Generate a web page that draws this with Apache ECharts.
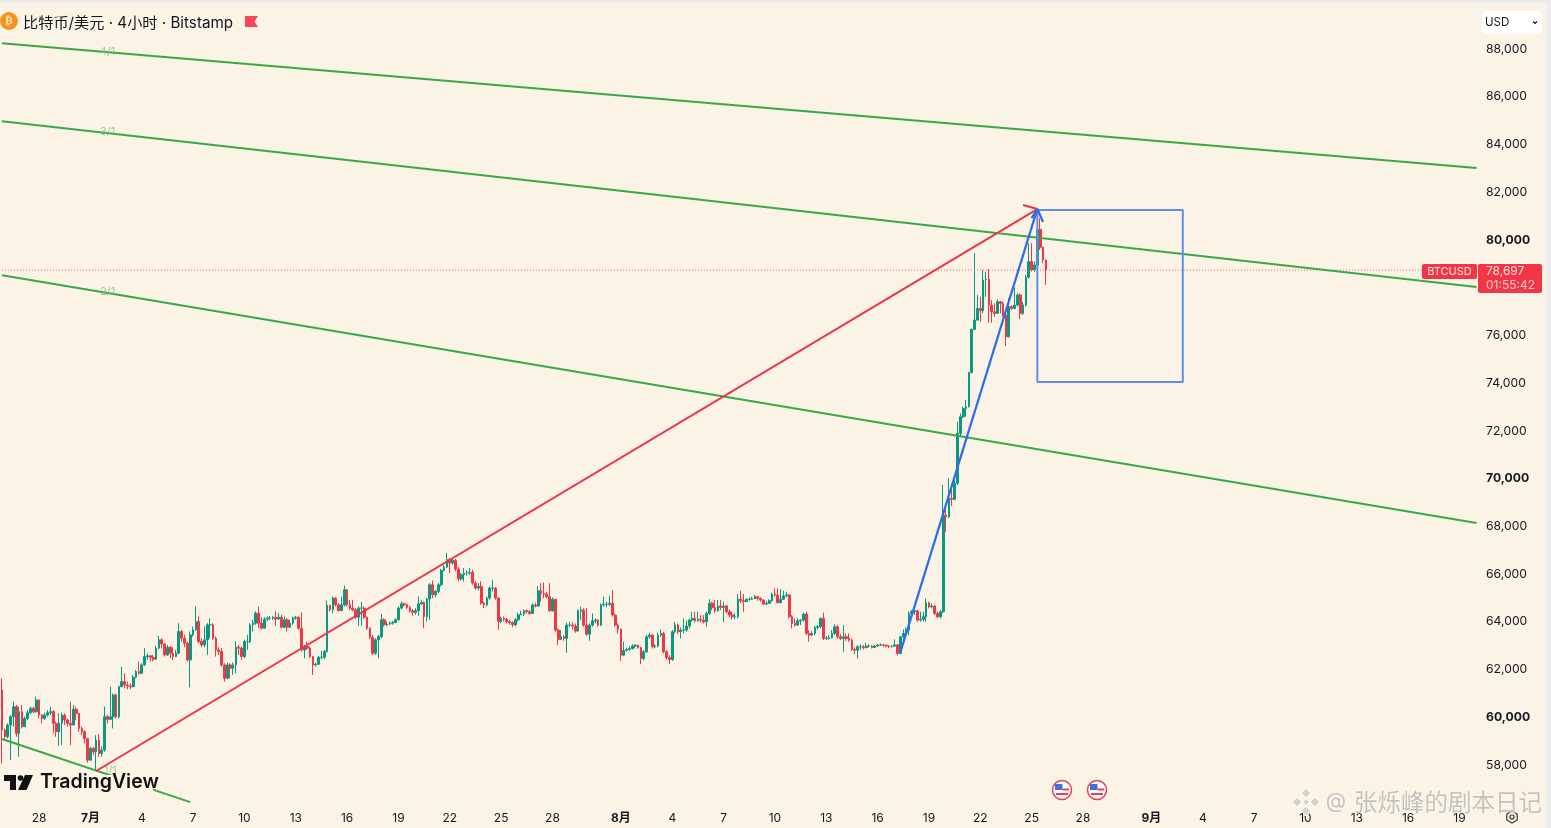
<!DOCTYPE html>
<html><head><meta charset="utf-8">
<style>html,body{margin:0;padding:0;background:#fbf3e6;overflow:hidden}#c{position:absolute;left:-1px;top:0;width:1552px;height:828px}</style>
<script src="https://cdn.jsdelivr.net/npm/echarts@6/dist/echarts.min.js"></script>
</head><body><div id="c"></div>
<script>
const firstOpen = 61100;
const closes = [
59420,59140,59630,59980,60400,59280,60190,59560,59910,60150,60330,60190,60680,60050,59910,60050,60150,60190,59700,59350,59700,60050,59840,59700,59630,60290,60120,59490,59350,59070,
58160,58650,58510,59000,58440,58580,59980,59870,59980,60890,59980,61240,61450,61310,61270,61240,61630,61870,61800,62150,62500,62530,62470,62390,62850,63200,63030,62570,62890,62640,
62500,62640,63550,63270,63060,62360,63410,63620,63970,63130,62990,63200,63830,63830,63270,62780,62710,62150,61590,62150,62010,62150,62890,62850,62500,63130,63130,63830,63900,64320,63900,
63690,64070,64110,64110,64140,64070,64150,63730,64040,63730,63900,64110,64150,63690,62780,62920,62850,62500,62150,62180,62470,62470,62710,64640,64460,64950,64670,64430,64670,65300,
64670,64530,64460,64150,64530,64530,64150,63690,63310,62640,63200,63340,64040,63830,63860,63900,63930,64040,64530,64710,64670,64560,64420,64350,64430,64710,64770,64180,64910,65510,
65090,65230,65510,66110,66250,66560,66420,66530,66170,65750,65930,66000,66000,66030,65580,65370,65440,64740,64670,64950,65370,65370,64950,63970,64110,64070,63970,63930,63830,64040,64250,
64280,64420,64380,64310,64660,64620,65260,65150,65120,65010,64420,64900,63610,63220,63330,63260,63820,63820,63780,63570,64420,64450,63820,63440,63820,64000,64030,63820,64660,64690,
64690,64730,64240,63820,63640,62560,62770,62800,62840,62940,62980,62880,62420,62700,63330,63400,62910,62940,63400,63470,62700,62460,62380,63540,63820,63540,63610,63610,63780,64030,
64100,64000,64060,64030,63960,64310,64730,64560,64420,64620,64560,64620,64380,64240,64170,64170,64900,64840,64800,
64900,64900,64930,65010,64940,64870,64700,64730,64840,65120,65080,64760,64900,65040,65080,64170,63890,63820,64000,64030,64280,63470,63400,63470,63720,63750,64100,63260,63260,63290,
63470,63750,63330,63260,63330,63260,63190,62800,62770,62910,62910,62880,62940,62940,62880,62940,62980,62990,62980,62940,62910,62940,62990,62630,63330,63470,63610,64310,64380,64420,
64030,64060,64170,64760,64590,64620,64310,64170,64380,
68430,68360,69130,69090,69760,71850,72550,72900,72970,74400,76210,76600,77090,76990,78280,78310,77230,76950,76880,77370,77300,76810,75900,77160,77090,77230,77650,76880,77230,78390,
79050,78700,78910,80400,79650,79120,78697];
const highs = [
61590,59490,59700,60050,60610,60470,60400,60470,59980,60260,60400,60400,60820,60710,60090,60150,60260,60400,60260,59770,60120,60150,60120,59910,60610,60470,60400,60150,59560,59420,
59070,58720,58720,59210,59250,58720,60400,60050,61240,60960,60960,61270,62080,61800,61450,61380,61730,61940,62290,62220,62850,62640,62570,62570,62950,63370,63270,63060,62990,62950,
62890,62780,63900,63620,63410,63130,63550,63760,64600,64180,63270,63760,63900,64110,63900,63340,62890,62850,62220,62250,62220,62250,63130,62990,62920,63200,63410,63900,64040,64390,64600,
64150,64150,64180,64210,64210,64390,64320,64250,64180,64110,64040,64180,64210,64180,64350,62990,63130,62920,62530,62250,62530,62750,62780,64850,64670,65020,64990,64740,65020,65470,
65330,64880,64880,64530,64600,64790,64600,64180,63730,63410,63270,63410,64290,64110,63970,63970,63990,64110,64600,64810,64770,64710,64630,64490,64530,65020,64880,64810,64950,65580,
65690,65300,65580,66170,66350,66840,66630,66630,66590,66250,66000,66210,66110,66210,66140,65650,65580,65650,64810,65020,65440,65720,65410,64990,64180,64180,64110,64040,63970,64110,64350,
64420,64480,64480,64450,64730,64760,65460,65570,65600,65220,65570,64980,64900,63680,63610,63400,63920,63960,63960,63890,64480,64590,64520,64520,63890,64310,64100,64060,64730,65010,
64800,65040,65290,64310,63890,63680,63120,62880,62940,63020,63020,62980,62910,62770,63400,63500,63440,63020,63500,63640,63540,62770,62560,63610,63960,63890,63720,64100,64030,64100,
64380,64380,64380,64240,64240,64380,64900,64800,64870,64870,64870,64800,64660,64480,64380,64310,65120,65260,65120,
64940,64980,65010,65080,65040,64980,64900,64840,64900,65180,65360,65360,65320,65260,65220,65120,64240,64100,64100,64060,64340,64380,63610,63580,63780,63820,64140,64340,63360,63400,
63610,63860,63820,63440,63820,63470,63470,63260,62880,62980,63020,62980,63080,63020,62980,62990,63020,63050,63020,62990,62980,62980,63220,63020,63360,63640,63720,64380,64450,64480,
64450,64380,64380,64940,64800,64730,64660,64380,64450,
69690,68920,69970,69760,69900,72340,72690,72970,73250,74440,76250,79400,77650,77580,78700,78630,78730,77440,77300,77470,77400,77370,76880,77510,77230,77970,77720,77720,77370,78490,
79820,79820,79050,80790,80860,79680,79140];
const lows = [
58020,59000,59070,58160,59560,59140,58300,59490,59560,59840,60090,60120,60150,59910,59700,59840,59980,60050,59280,59140,58750,58790,59630,59560,58790,59630,59840,59350,59210,58860,
58050,58160,58370,57710,58300,58300,58510,59700,59840,59490,59910,59910,61210,61170,61130,61130,61210,61590,61730,61770,62110,62360,62290,62290,62360,62810,62850,62500,62530,62430,
62360,62470,62610,63130,62890,62290,61210,63340,63590,63060,62890,62890,62570,63270,63200,62500,62570,62080,61450,61550,61590,61730,61800,62570,62360,62430,62780,63060,63550,63830,63690,
63620,63690,63970,64040,64040,63790,64070,63690,63690,63550,63690,63830,64040,63620,62710,62430,62780,62430,61730,62080,62150,62390,62390,62670,64390,64320,64600,64380,64400,64600,
64600,64460,64390,64070,63790,63790,64070,63620,63230,62570,62570,62430,63270,63760,63790,63820,63840,63900,64010,64490,64600,64490,64350,64210,64250,64210,64670,63690,63970,64040,
64950,64990,65160,65440,66070,66210,66000,66350,66070,65650,65690,65650,65890,65930,65510,65300,65270,64670,64530,64600,64880,65230,64880,63620,63900,63970,63900,63830,63730,63760,63970,
64240,64200,64310,64240,64280,64560,64590,64800,64940,64940,64380,64380,63540,62980,63190,63160,62660,63720,63640,63500,63540,64030,63750,63360,63160,63750,63890,63750,63780,64590,
64560,64620,64170,63750,63470,62320,62520,62700,62740,62800,62840,62830,62180,62350,62660,63260,62840,62850,62880,63330,62630,62380,62180,62320,63470,63440,63260,63470,63540,63680,
63960,63920,63960,63920,63890,63750,64240,64450,64340,64380,64450,63930,64310,64140,64060,64060,64100,64730,64380,
64800,64840,64870,64900,64840,64800,64660,64660,64700,64800,65010,64730,64730,64870,64980,64100,63680,63750,63780,63820,63960,63400,63120,63360,63400,63640,63680,63190,63190,63220,
63260,63400,63260,63190,62700,63160,63120,62740,62600,62420,62770,62800,62840,62880,62840,62850,62910,62940,62910,62880,62850,62880,62910,62560,62600,63260,63300,63400,64100,64240,
63960,63960,63960,63960,64520,64520,64240,64100,64100,
64310,67730,68300,68810,69050,69690,71710,72480,72550,72940,74370,76180,76570,76530,76880,77580,76490,76490,76740,76880,76880,76740,75510,75880,77020,77050,77160,76630,76810,77160,
78350,78630,78630,78840,79540,78980,78070];

const tickLabels = {"06-28":"28","07-01":"7月","07-04":"4","07-07":"7","07-10":"10","07-13":"13","07-16":"16","07-19":"19","07-22":"22","07-25":"25","07-28":"28",
"08-01":"8月","08-04":"4","08-07":"7","08-10":"10","08-13":"13","08-16":"16","08-19":"19","08-22":"22","08-25":"25","08-28":"28",
"09-01":"9月","09-04":"4","09-07":"7","09-10":"10","09-13":"13","09-16":"16","09-19":"19"};
const barCount = 518;
const lastPrice = 78697;
const priceText = "78,697", countdown = "01:55:42";
const boldPrices = [60000,70000,80000];
const hiddenPrices = [56000,78000,90000];
// drawings: [bar index, price]
const fan41 = [[0,88205],[517,82972]];
const fan31 = [[0,84930],[517,77990]];
const fan21 = [[0,78480],[517,68100]];
const fan11 = [[0,59048],[66,56400]];
const redRay = [[33,57706],[363,81254]];
const redHead = [[358,81420],[363,81254]];
const blueRay = [[315,62692],[363,81254]];
const blueHead = [[361,80877],[363,81254],[365,80709]];
const box = [[363,81212],[414,81212],[414,74005],[363,74005],[363,81212]];
const fanLabels = [[37,87832,"4/1"],[37,84480,"3/1"],[37,77776,"2/1"],[38,57706,"1/1"]];

const categories = [];
const t0 = Date.UTC(2025,5,25,20);
for (let i=0;i<barCount;i++){
  const d = new Date(t0+i*4*3600*1000);
  const p = n=>String(n).padStart(2,'0');
  categories.push(p(d.getUTCMonth()+1)+'-'+p(d.getUTCDate())+' '+p(d.getUTCHours()));
}
const opens = [firstOpen].concat(closes.slice(0,-1));
const candles = closes.map((c,i)=>[opens[i],c,lows[i],highs[i]]);

const GREEN='#3aa845', RED='#ef3347', BLUE='#2f6bea', BOX='#5c8fee', BG='#fbf3e6', TXT='#131722';
const FONT='Inter, "Noto Sans CJK SC", sans-serif';
function ln(data,color,width,z,type){return {type:'line',data,showSymbol:false,symbol:'none',silent:true,animation:false,z:z||5,lineStyle:{color,width:width||2,type:type||'solid'}};}
function flag(cx,cy){return [
 {type:'circle',shape:{cx,cy,r:9.5},style:{fill:'#fff',stroke:'#ee3b50',lineWidth:1.5}},
 {type:'rect',shape:{x:cx-7,y:cy-6,width:7.5,height:6},style:{fill:'#3f73d8'}},
 {type:'rect',shape:{x:cx+.5,y:cy-1.5,width:6.5,height:2},style:{fill:'#e8404f'}},
 {type:'rect',shape:{x:cx-6,y:cy+3,width:12,height:2},style:{fill:'#e8404f'}}
];}
const wm='#c4c0ba';
function dia(cx,cy,r){return {type:'polygon',shape:{points:[[cx,cy-r],[cx+r,cy],[cx,cy+r],[cx-r,cy]]},style:{fill:'#d6d2cc',stroke:'#fff',lineWidth:1}};}
const graphics=[
 {type:'rect',shape:{x:-1,y:0,width:1552,height:3},style:{fill:'#ececec'}},
 {type:'rect',shape:{x:1546,y:0,width:5,height:828},style:{fill:'#ececec'}},
 {type:'circle',shape:{cx:9,cy:21,r:9},style:{fill:'#f7931a'}},
 {type:'text',style:{x:9,y:21,text:'₿',fill:'#fff',font:'bold 11px "DejaVu Sans"',align:'center',verticalAlign:'middle',opacity:.8}},
 {type:'text',style:{x:23,y:23,text:'比特币/美元 · 4小时 · Bitstamp',fill:TXT,font:'15.2px '+FONT,verticalAlign:'middle'}},
 {type:'polygon',shape:{points:[[245,16],[258,16],[254.5,21.5],[258,27],[245,27]]},style:{fill:'#f5475b'}},
 {type:'rect',shape:{x:1482,y:11,width:60,height:23,r:4},style:{fill:'#fff'}},
 {type:'text',style:{x:1485,y:23,text:'USD',fill:TXT,font:'11.5px '+FONT,verticalAlign:'middle'}},
 {type:'polyline',shape:{points:[[1533,21.5],[1535,23.5],[1537,21.5]]},style:{stroke:TXT,fill:'none',lineWidth:1.2}},
 {type:'rect',shape:{x:1422,y:264,width:55,height:15,r:2},style:{fill:'#f23645'}},
 {type:'text',style:{x:1449.5,y:272,text:'BTCUSD',fill:'#ffe3e6',font:'11px '+FONT,align:'center',verticalAlign:'middle'}},
 {type:'rect',shape:{x:1478,y:264,width:64,height:29,r:2},style:{fill:'#f23645'}},
 {type:'text',style:{x:1486,y:271,text:priceText,fill:'#ffe3e6',font:'12px '+FONT,verticalAlign:'middle'}},
 {type:'text',style:{x:1486,y:285,text:countdown,fill:'#ffc9ce',font:'12px '+FONT,verticalAlign:'middle'}},
 {type:'rect',shape:{x:-1,y:775,width:154,height:21},style:{fill:BG}},
 {type:'polygon',shape:{points:[[4,775],[16,775],[16,790],[10,790],[10,781],[4,781]]},style:{fill:'#111'}},
 {type:'polygon',shape:{points:[[25,775],[33,775],[26.5,790],[18,790]]},style:{fill:'#111'}},
 {type:'circle',shape:{cx:20.5,cy:778,r:2.8},style:{fill:'#111'}},
 {type:'text',style:{x:40,y:782.5,text:'TradingView',fill:'#111',font:'600 19.5px '+FONT,verticalAlign:'middle'}},
 ...flag(1062,790),...flag(1097,790),
 {type:'polygon',shape:{points:[[1512,811],[1517.2,814],[1517.2,820],[1512,823],[1506.8,820],[1506.8,814]]},style:{fill:'none',stroke:'#333',lineWidth:1.2}},
 {type:'circle',shape:{cx:1512,cy:817,r:2},style:{fill:'none',stroke:'#333',lineWidth:1.2}},
 dia(1306,793,5),dia(1306,811,5),dia(1297,802,5),dia(1315,802,5),dia(1306,802,3.5),
 {type:'text',style:{x:1336,y:802,text:'@',fill:wm,font:'21px '+FONT,align:'center',verticalAlign:'middle',textShadowColor:'#fff',textShadowBlur:2}},
 {type:'text',style:{x:1354,y:802,text:'张烁峰的剧本日记',fill:wm,font:'23.5px "Noto Sans CJK SC"',verticalAlign:'middle',textShadowColor:'#fff',textShadowBlur:2}}
].map(g=>Object.assign({z:20},g));

const chart=echarts.init(document.getElementById('c'),null,{renderer:'canvas'});
chart.setOption({
 animation:false,backgroundColor:BG,
 grid:{left:0,top:0.3,width:1479,height:811.4,containLabel:false},
 xAxis:{type:'category',data:categories,boundaryGap:true,axisLine:{show:false},axisTick:{show:false},splitLine:{show:false},
  axisLabel:{interval:0,margin:1,hideOverlap:false,showMinLabel:true,showMaxLabel:true,color:TXT,fontFamily:FONT,fontSize:12,
   formatter:v=>{const k=v.slice(0,5),h=v.slice(6);if(h!=='00'||!tickLabels[k])return '';const s=tickLabels[k];return s.indexOf('月')>=0?'{b|'+s+'}':s;},
   rich:{b:{fontWeight:'bold',fontSize:12,color:TXT,fontFamily:FONT}}}},
 yAxis:{type:'value',position:'right',min:56000,max:90000,interval:2000,axisLine:{show:false},axisTick:{show:false},splitLine:{show:false},
  axisLabel:{margin:8,padding:[2,0,0,0],color:TXT,fontFamily:FONT,fontSize:12.2,
   formatter:v=>{if(hiddenPrices.includes(v))return '';const s=v.toLocaleString('en-US');return boldPrices.includes(v)?'{b|'+s+'}':s;},
   rich:{b:{fontWeight:'bold',fontSize:12.2,color:TXT,fontFamily:FONT}}}},
 graphic:[{type:'group',x:1,y:0,children:graphics}],
 series:[
  {type:'candlestick',data:candles,barWidth:2.2,silent:true,z:2,itemStyle:{color:'#089981',color0:'#f23645',borderColor:'#089981',borderColor0:'#f23645',borderWidth:1}},
  ln([[0,lastPrice],[517,lastPrice]],'#f0606e',1,3,[1,2]),
  ln(fan41,GREEN),ln(fan31,GREEN),ln(fan21,GREEN),ln(fan11,GREEN),
  ln(redRay,RED,2),ln(redHead,RED,2),
  ln(box,BOX,2),
  ln(blueRay,BLUE,2.3),ln(blueHead,BLUE,2.3),
  {type:'scatter',silent:true,symbolSize:1,itemStyle:{color:'rgba(0,0,0,0)'},z:6,data:fanLabels.map(a=>({value:[a[0],a[1]],name:a[2]})),
   label:{show:true,position:'inside',formatter:p=>p.name,color:'#7cc282',fontSize:11,fontFamily:FONT}}
 ]
});
</script></body></html>
